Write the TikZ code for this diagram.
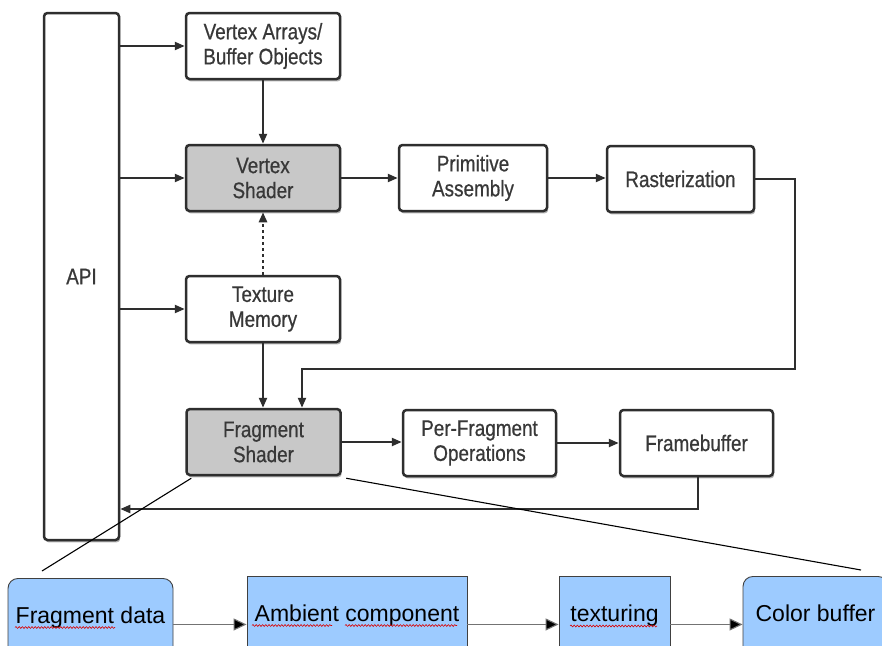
\documentclass[tikz,border=0pt]{standalone}
\usepackage{fontspec}
\setmainfont{Liberation Sans}
\newfontfamily\narrowfont[FakeStretch=0.84,FakeBold=0.6]{Liberation Sans}
\usetikzlibrary{arrows.meta,shadows,decorations.pathmorphing}

\definecolor{edge}{HTML}{2E2E2E}
\definecolor{ink}{HTML}{383838}
\definecolor{shade}{HTML}{C8C8C8}
\definecolor{skyblue}{HTML}{9DCBFF}

\tikzset{
  stage/.style={draw=edge, line width=2.5pt, rounded corners=3.5pt, fill=white,
    minimum width=154pt, minimum height=66pt, inner sep=0pt, align=center,
    text=ink, font=\narrowfont\fontsize{22.5}{25}\selectfont,
    drop shadow={shadow xshift=1.2pt, shadow yshift=-2.4pt, opacity=0.3, fill=black}},
  shader/.style={stage, fill=shade},
  flow/.style={draw=edge, line width=2.2pt, -{Triangle[length=10pt,width=8pt]}},
  zoomline/.style={draw=black, line width=1.1pt},
  detail/.style={draw=black!75, line width=0.9pt, fill=skyblue, anchor=north,
    inner xsep=0pt, inner ysep=0pt, text height=45pt, text depth=47pt,
    font=\fontsize{23}{27}\selectfont, text=black},
  thinflow/.style={draw=black!55, line width=1.1pt, -{Triangle[length=13pt,width=12pt,fill=black]}},
  spell/.style={draw=red!85!black, line width=0.6pt, decorate,
    decoration={snake, amplitude=0.9pt, segment length=3.2pt}}
}

\begin{document}
\begin{tikzpicture}[x=1pt,y=-1pt]
  \useasboundingbox (0,0) rectangle (882,645);
  \clip (0,0) rectangle (882,645);
  \fill[white] (0,0) rectangle (882,645);

  % pipeline stages
  \node[stage, minimum width=75pt, minimum height=527pt] (api) at (81.5,276.5) {API};
  \node[stage] (va) at (263,46) {Vertex Arrays/\\Buffer Objects};
  \node[shader] (vs) at (263,178) {Vertex\\Shader};
  \node[stage] (tm) at (263,309) {Texture\\Memory};
  \node[shader] (fs) at (263.5,442) {Fragment\\Shader};
  \node[stage, minimum width=148pt] (pa) at (473,178) {Primitive\\Assembly};
  \node[stage, minimum width=147pt] (ra) at (680.5,179) {Rasterization};
  \node[stage, minimum width=153pt] (pf) at (479.5,443) {Per-Fragment\\Operations};
  \node[stage, minimum width=153pt] (fb) at (696.5,443) {Framebuffer};

  % pipeline connectors
  \draw[flow] (va.west -| api.east) -- (va.west);
  \draw[flow] (vs.west -| api.east) -- (vs.west);
  \draw[flow] (tm.west -| api.east) -- (tm.west);
  \draw[flow] (va.south) -- (vs.north);
  \draw[flow, line width=2.8pt, dash pattern=on 3pt off 3pt] (tm.north) -- (vs.south);
  \draw[flow] (vs.east) -- (vs.east -| pa.west);
  \draw[flow] (pa.east) -- (pa.east -| ra.west);
  \coordinate (rasterturn) at (795,369);
  \draw[flow] (ra.east) -| (rasterturn) -| ([xshift=38.5pt]fs.north);
  \draw[flow] (tm.south) -- (tm.south |- fs.north);
  \draw[flow] (fs.east) -- (fs.east -| pf.west);
  \draw[flow] (pf.east) -- (fb.west);
  \coordinate (fbturn) at (698,509);
  \draw[flow] (fbturn |- fb.south) -- (fbturn) -- (fbturn -| api.east);

  % fragment shader detail
  \node[detail, rounded corners=10pt, minimum width=165pt] (fd) at (90.5,578) {Fragment data};
  \node[detail, minimum width=220pt] (amb) at (357,576) {Ambient component};
  \node[detail, minimum width=111pt] (tex) at (614.5,576) {texturing};
  \node[detail, rounded corners=10pt, minimum width=145pt] (cb) at (815.5,576) {Color buffer};

  \draw[thinflow] (fd.east) -- (amb.west |- fd.east);
  \draw[thinflow] (amb.east |- fd.east) -- (tex.west |- fd.east);
  \draw[thinflow] (tex.east |- fd.east) -- (cb.west |- fd.east);

  % spell-check marks under the detail labels
  \draw[spell] (15,627.5) -- (115,627.5);
  \draw[spell] (252,625.5) -- (332,625.5);
  \draw[spell] (345,625.5) -- (457,625.5);
  \draw[spell] (570,626) -- (657,626);

  % zoom lines from the fragment shader to its detail
  \coordinate (zoomleft) at (42,571);
  \coordinate (zoomright) at (861,570);
  \draw[zoomline] ([xshift=6pt,yshift=-2pt]fs.south west) -- (zoomleft);
  \draw[zoomline] ([xshift=4.5pt,yshift=-2pt]fs.south east) -- (zoomright);
\end{tikzpicture}
\end{document}
